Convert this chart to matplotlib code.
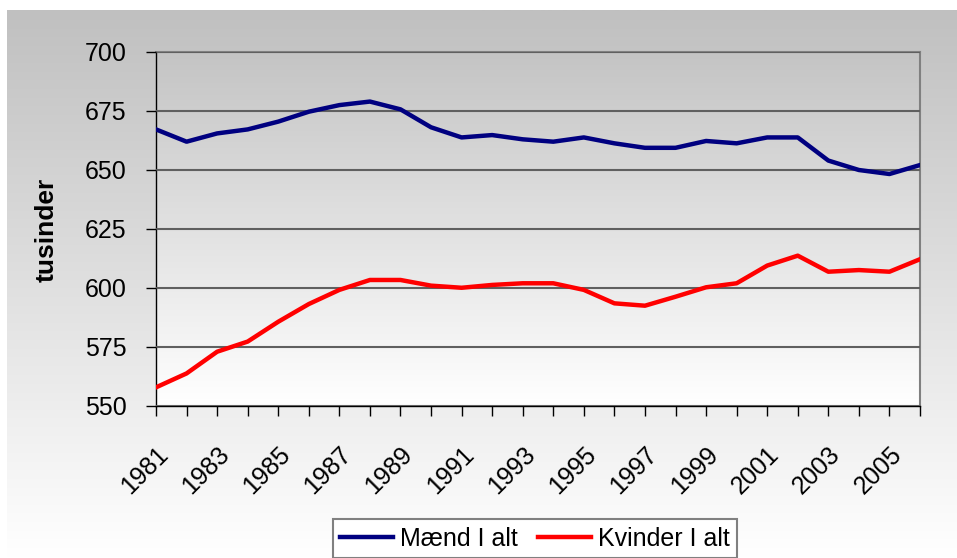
import numpy as np
import matplotlib.pyplot as plt
from matplotlib.colors import LinearSegmentedColormap

plt.rcParams['font.family'] = ['Liberation Sans', 'DejaVu Sans']

# Data (tusinder)
years = list(range(1981, 2007))
maend = [667.2, 662.0, 665.5, 667.2, 670.5, 674.7, 677.5, 679.0, 675.7, 668.1,
         663.8, 664.8, 663.0, 662.0, 663.8, 661.3, 659.4, 659.4, 662.3, 661.3,
         663.8, 663.8, 654.0, 650.0, 648.3, 652.1]
kvinder = [557.9, 563.8, 573.0, 577.3, 585.7, 593.2, 599.2, 603.4, 603.4, 601.0,
           600.1, 601.3, 602.0, 602.0, 599.2, 593.5, 592.5, 596.3, 600.3, 602.0,
           609.5, 613.7, 606.9, 607.6, 606.9, 612.2]
yticks = [550, 575, 600, 625, 650, 675, 700]

fig = plt.figure(figsize=(9.57, 5.58), dpi=100)
fig.patch.set_facecolor('white')

# chart-area gradient background
grad = np.linspace(0, 1, 256).reshape(-1, 1)
bg = fig.add_axes([7 / 957, 0, 1 - 7 / 957, 1 - 10 / 558], zorder=-10)
bg.imshow(grad, aspect='auto', extent=[0, 1, 0, 1], origin='upper',
          cmap=LinearSegmentedColormap.from_list('g', ['#c0c0c0', '#ffffff']))
bg.axis('off')

ax = fig.add_axes([156 / 957, 1 - 406 / 558, (920 - 156) / 957, (406 - 52) / 558])
ax.patch.set_alpha(0)
ax.imshow(grad, aspect='auto', extent=[0, 1, 0, 1], origin='upper',
          cmap=LinearSegmentedColormap.from_list('p', ['#c4c4c4', '#ffffff']),
          transform=ax.transAxes, zorder=0)

x = np.arange(len(years))
ax.plot(x, maend, color='#000080', lw=3.2, label='Mænd I alt', zorder=3,
        solid_joinstyle='round')
ax.plot(x, kvinder, color='#ff0000', lw=3.2, label='Kvinder I alt', zorder=3,
        solid_joinstyle='round')

ax.set_xlim(0, len(years) - 1)
ax.set_ylim(550, 700)
ax.set_yticks(yticks)
ax.set_xticks(x)
ax.set_xticklabels([str(y) if i % 2 == 0 else '' for i, y in enumerate(years)],
                   rotation=45, ha='right', rotation_mode='anchor')
ax.tick_params(axis='both', direction='out', length=7, width=1, labelsize=18,
               colors='black')
ax.tick_params(axis='y', pad=14)
ax.tick_params(axis='x', pad=19)
ax.yaxis.grid(True, color='#606060', lw=1.5, zorder=1)
ax.set_axisbelow(False)
for s in ['top', 'right']:
    ax.spines[s].set_color('#808080')
    ax.spines[s].set_linewidth(1.5)
for s in ['left', 'bottom']:
    ax.spines[s].set_color('black')
    ax.spines[s].set_linewidth(1)

fig.text(47 / 957, 1 - 230 / 558, 'tusinder', rotation=90, fontsize=19,
         fontweight='bold', ha='center', va='center')

leg = fig.legend(loc='upper center', bbox_to_anchor=(535 / 957, 1 - 519 / 558),
                 ncol=2, fontsize=18, frameon=True, fancybox=False,
                 edgecolor='#808080', facecolor='white', framealpha=1,
                 handlelength=2.1, columnspacing=0.8, handletextpad=0.3,
                 borderpad=0.3, borderaxespad=0)
leg.get_frame().set_linewidth(1.5)

fig.savefig('out.png', dpi=100)
